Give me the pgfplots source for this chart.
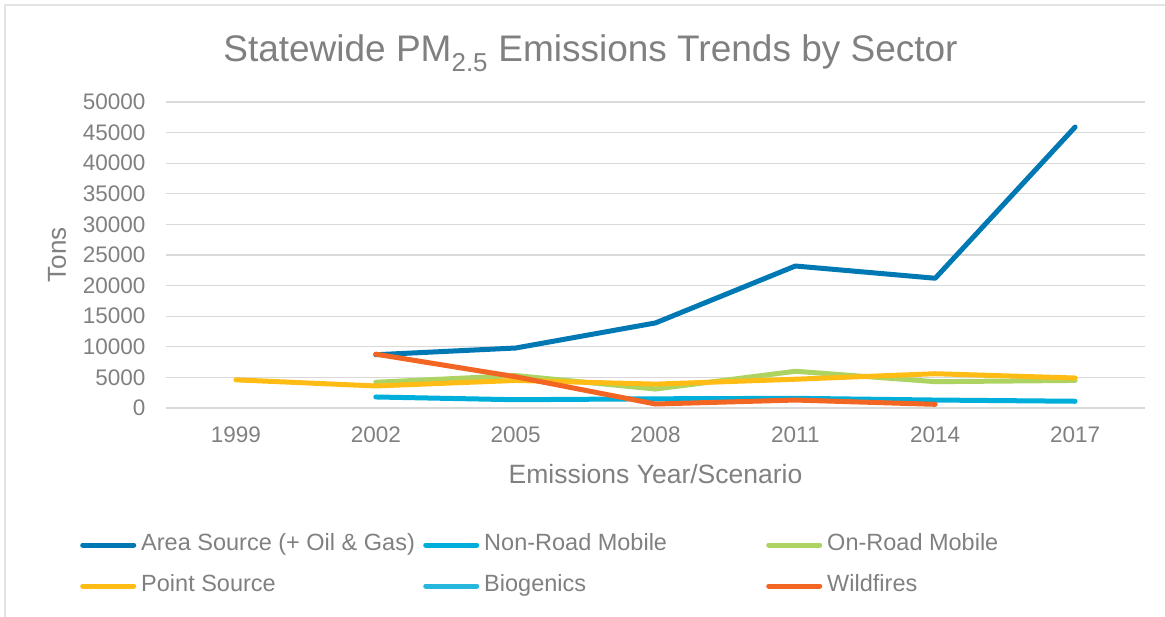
\documentclass[border=0pt]{standalone}
\usepackage{fontspec}
\setmainfont{Liberation Sans}
\usepackage{pgfplots}
\pgfplotsset{compat=1.18}

\definecolor{txt}{HTML}{808080}
\definecolor{gridc}{HTML}{D9D9D9}
\definecolor{frame}{HTML}{E3E3E3}
\definecolor{area}{HTML}{0078B4}
\definecolor{nonroad}{HTML}{00AEDB}
\definecolor{onroad}{HTML}{ADD362}
\definecolor{point}{HTML}{FFBC15}
\definecolor{bio}{HTML}{27B6DE}
\definecolor{fire}{HTML}{F26522}

\newcommand{\legtext}[1]{\makebox[287pt][l]{\hspace{5pt}#1}}

\begin{document}
\begin{tikzpicture}
\path[use as bounding box] (0pt,0pt) rectangle (1165pt,617pt);
\draw[frame, line width=1.5pt] (5pt,0pt) -- (5pt,612pt) -- (1165pt,612pt);
\begin{axis}[
  at={(166pt,209pt)}, anchor=south west,
  scale only axis, width=979pt, height=306pt,
  xmin=1997.5, xmax=2018.5, ymin=0, ymax=50000,
  xtick={1999,2002,...,2017}, ytick={0,5000,...,50000},
  /pgf/number format/.cd, 1000 sep={}, assume math mode=true, /pgfplots/.cd,
  scaled y ticks=false,
  major tick length=0pt,
  axis x line*=bottom, axis y line*=left,
  x axis line style={gridc, line width=1.2pt, -},
  y axis line style={draw=none},
  ymajorgrids, grid style={gridc, line width=1.2pt},
  ticklabel style={font=\fontsize{22.5}{22.5}\selectfont, text=txt},
  yticklabel style={xshift=-17pt},
  xticklabel style={yshift=-15pt},
  xlabel={Emissions Year/Scenario},
  xlabel style={font=\fontsize{26.5}{26.5}\selectfont, text=txt, at={(axis description cs:0.5,0)}, anchor=center, yshift=-66pt},
  ylabel={Tons},
  ylabel style={font=\fontsize{26}{26}\selectfont, text=txt, at={(axis description cs:0,0.5)}, anchor=center, rotate=0, yshift=109pt},
  title={Statewide PM\textsubscript{2.5} Emissions Trends by Sector},
  title style={font=\fontsize{37}{37}\selectfont, text=txt, at={(axis description cs:0.4336,1)}, anchor=center, yshift=43pt},
  every axis plot/.append style={line width=5pt, line cap=round, line join=round},
  legend columns=3,
  legend cell align=left,
  legend style={at={(axis description cs:-0.0878,-0.413)}, anchor=north west,
    draw=none, fill=none, inner sep=0pt,
    font=\fontsize{23.5}{23.5}\selectfont, text=txt,
    nodes={inner sep=0pt, text height=16pt, text depth=5pt},
    row sep=20pt, column sep=0pt},
  legend image code/.code={\draw[#1] (2.5pt,0pt) -- (53.5pt,0pt);},
]
\addplot[area] coordinates {(2002,8700) (2005,9800) (2008,13900) (2011,23200) (2014,21200) (2017,45900)};
\addlegendentry{\legtext{Area Source (+ Oil \& Gas)}}
\addplot[nonroad] coordinates {(2002,1800) (2005,1350) (2008,1500) (2011,1580) (2014,1300) (2017,1100)};
\addlegendentry{\legtext{Non-Road Mobile}}
\addplot[onroad] coordinates {(2002,4200) (2005,5300) (2008,3100) (2011,6000) (2014,4300) (2017,4500)};
\addlegendentry{\legtext{On-Road Mobile}}
\addplot[point] coordinates {(1999,4600) (2002,3600) (2005,4500) (2008,3900) (2011,4700) (2014,5600) (2017,4900)};
\addlegendentry{\legtext{Point Source}}
\addlegendimage{bio, line width=5pt, line cap=round}
\addlegendentry{\legtext{Biogenics}}
\addplot[fire] coordinates {(2002,8800) (2005,5100) (2008,650) (2011,1300) (2014,600)};
\addlegendentry{\legtext{Wildfires}}
\end{axis}
\end{tikzpicture}
\end{document}
